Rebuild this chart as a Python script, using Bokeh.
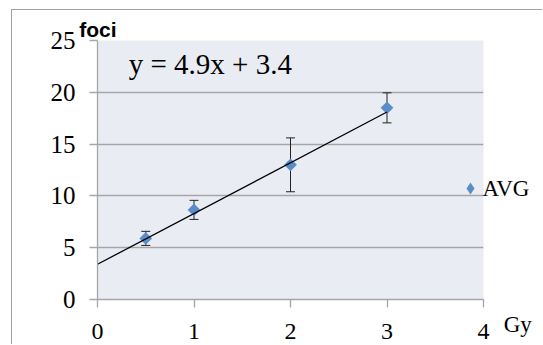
import numpy as np
from bokeh.plotting import figure
from bokeh.models import (Range1d, Whisker, ColumnDataSource, Label, Legend,
                          LegendItem, FixedTicker, TeeHead)
from bokeh.embed import file_html
from bokeh.resources import INLINE

# ---- data ----
dose = [0.5, 1, 2, 3]
foci_avg = [5.9, 8.65, 13.0, 18.5]
foci_err = [0.68, 0.92, 2.6, 1.45]
x_ticks = [0, 1, 2, 3, 4]
y_ticks = [0, 5, 10, 15, 20, 25]
slope = 4.9
intercept = 3.4
series_name = "AVG"
x_title = "Gy"
y_title = "foci"

SERIF = "Liberation Serif"
GRID = "#A6A6A6"
BLUE = "#5A8DC8"

p = figure(width=531, height=335, output_backend="svg", toolbar_location=None,
           x_range=Range1d(0, 4), y_range=Range1d(0, 25),
           min_border_left=85, min_border_top=30, min_border_right=60,
           min_border_bottom=46)
p.styles = {"margin-left": "11px", "margin-top": "9px",
            "border-left": "1px solid #A0A0A0", "border-top": "1px solid #A0A0A0"}
p.background_fill_color = "#E9ECF2"
p.border_fill_color = "white"
p.outline_line_color = None

# axes
for ax in (p.xaxis[0], p.yaxis[0]):
    ax.axis_line_color = GRID
    ax.axis_line_width = 1.3
    ax.major_tick_line_color = GRID
    ax.major_tick_line_width = 1.3
    ax.major_tick_out = 8
    ax.major_tick_in = 0
    ax.minor_tick_line_color = None
    ax.major_label_text_font = SERIF
    ax.major_label_text_color = "black"
p.xaxis.ticker = FixedTicker(ticks=x_ticks)
p.yaxis.ticker = FixedTicker(ticks=y_ticks)
p.yaxis.major_label_text_font_size = "25px"
p.xaxis.major_label_text_font_size = "24px"
p.yaxis.major_label_standoff = 14
p.xaxis.major_label_standoff = 16
p.xaxis.major_label_text_line_height = 0.7

p.xgrid.grid_line_color = None
p.ygrid.grid_line_color = GRID
p.ygrid.grid_line_width = 1.3

# error bars
lower = [m - e for m, e in zip(foci_avg, foci_err)]
upper = [m + e for m, e in zip(foci_avg, foci_err)]
src = ColumnDataSource(dict(x=dose, lower=lower, upper=upper))
wh = Whisker(base="x", lower="lower", upper="upper", source=src,
             line_color="#222222", line_width=1,
             upper_head=TeeHead(size=9, line_color="#222222", line_width=1),
             lower_head=TeeHead(size=9, line_color="#222222", line_width=1))
p.add_layout(wh)

# points
r = p.scatter(dose, foci_avg, marker="square", angle=np.pi / 4, size=9,
              fill_color=BLUE, line_color=None)

# trend line
tx = [0, max(dose)]
ty = [intercept + slope * v for v in tx]
p.line(tx, ty, line_color="black", line_width=1.3)

# legend key: same series drawn as diamonds, hidden, used only for the key
key = p.scatter(dose, foci_avg, marker="diamond", size=12, fill_color=BLUE,
                line_color=None, visible=False)
legend = Legend(items=[LegendItem(label=" ", renderers=[key])],
                location=(358, 96), orientation="vertical",
                glyph_width=30, glyph_height=30, label_standoff=0,
                padding=0, margin=0, spacing=0,
                border_line_color=None, background_fill_alpha=0,
                inactive_fill_alpha=0,
                label_text_font=SERIF, label_text_font_size="23px",
                label_text_color="black")
p.add_layout(legend)

# texts outside the frame are kept in side panels (not clipped)
p.add_layout(Label(x=0.324, y=22.74, text=f"y = {slope}x + {intercept}",
                   text_font=SERIF, text_font_size="29px",
                   text_baseline="middle", text_color="black"))
p.add_layout(Label(x=3.99, y=10.73, text=series_name, text_font=SERIF,
                   text_font_size="23px", text_baseline="middle",
                   text_color="black"), "right")
p.add_layout(Label(x=4.21, y=-2.4, text=x_title, text_font=SERIF,
                   text_font_size="23px", text_baseline="middle",
                   text_color="black"), "left")
p.add_layout(Label(x=-0.19, y=26.04, text=y_title, text_font="Liberation Sans",
                   text_font_style="bold", text_font_size="21px",
                   text_baseline="middle", text_color="black"), "above")

open("out.html", "w").write(file_html(p, INLINE))
